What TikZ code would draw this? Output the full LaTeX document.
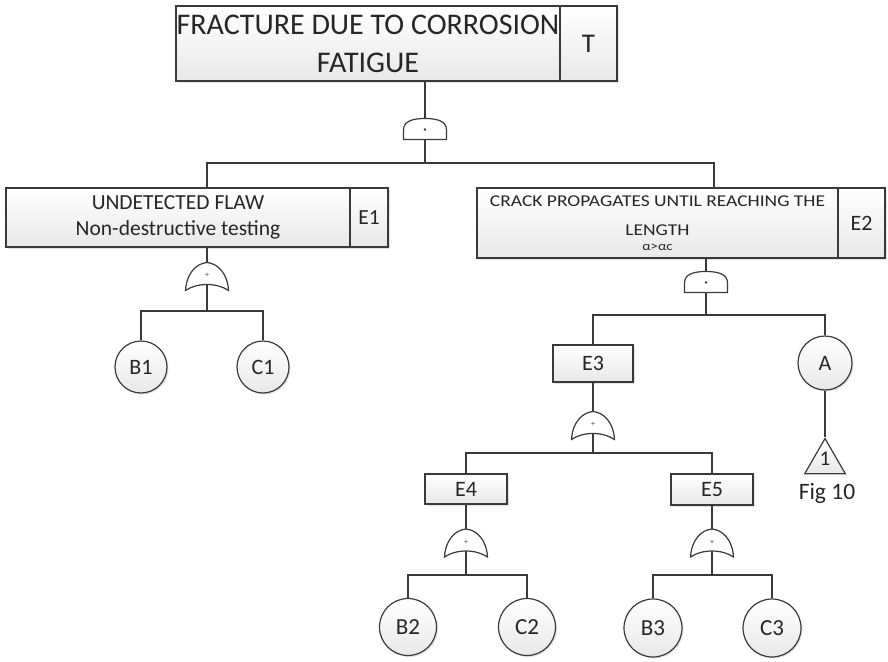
\documentclass[tikz,border=0pt]{standalone}
\usepackage{fontspec}
\setmainfont{Carlito}
\newfontfamily\widefont[FakeStretch=1.18]{Carlito}
\usetikzlibrary{shapes.geometric,shadows}

\definecolor{linec}{HTML}{3A3A3A}

\tikzset{
  conn/.style={draw=linec, line width=1.2pt},
  evbox/.style={draw=linec, line width=1.2pt, top color=white, bottom color=black!9,
    drop shadow={opacity=0.22, shadow xshift=1.5pt, shadow yshift=-1.5pt},
    inner sep=0pt, align=center, text=black!85},
  basic/.style={circle, draw=linec, line width=1.2pt, top color=white, bottom color=black!9,
    drop shadow={opacity=0.22, shadow xshift=1.5pt, shadow yshift=-1.5pt},
    inner sep=0pt, font=\fontsize{22}{24}\selectfont, text=black!85},
  gatestyle/.style={draw=linec, line width=1.2pt, fill=white},
  orgate/.pic={
    \path[gatestyle] (-21.5,14) .. controls (-20.5,-3) and (-11,-13) .. (0,-14)
      .. controls (11,-13) and (20.5,-3) .. (21.5,14)
      .. controls (10,6) and (-10,6) .. cycle;
    \node[font=\fontsize{8}{8}\selectfont, text=black!70, inner sep=0pt] (-sym) at (0,-1) {+};
    \coordinate (-in) at (0,-14);
    \coordinate (-out) at (0,8);
  },
  andgate/.pic={
    \path[gatestyle] (-21.5,10.5) -- (-21.5,1)
      .. controls (-21.5,-8) and (-12,-10.5) .. (0,-10.5)
      .. controls (12,-10.5) and (21.5,-8) .. (21.5,1) -- (21.5,10.5) -- cycle;
    \fill[linec] (0,0.5) circle (1.3pt);
    \coordinate (-in) at (0,-10.5);
    \coordinate (-out) at (0,10.5);
  }
}

\begin{document}
\begin{tikzpicture}[x=1pt, y=-1pt]
\useasboundingbox (0,0) rectangle (888,661);

% top event
\node[evbox, minimum width=384pt, minimum height=75pt, font=\fontsize{30}{38}\selectfont]
  (t) at (368,43.5) {FRACTURE DUE TO CORROSION\\FATIGUE};
\node[evbox, minimum width=57pt, minimum height=75pt, font=\fontsize{27}{30}\selectfont]
  (tid) at (588.5,43.5) {T};

% intermediate events
\node[evbox, minimum width=344pt, minimum height=59pt, font=\fontsize{21.5}{26}\selectfont]
  (e1) at (178,217.5) {UNDETECTED FLAW\\Non-destructive testing};
\node[evbox, minimum width=38pt, minimum height=59pt, font=\fontsize{21.5}{24}\selectfont]
  (e1id) at (369,217.5) {E1};

\node[evbox, minimum width=361pt, minimum height=70pt, font=\widefont\fontsize{16.5}{18}\selectfont]
  (e2) at (657.5,223) {CRACK PROPAGATES UNTIL REACHING THE\\[11pt]LENGTH\\[-3pt]{\fontsize{12.5}{13}\selectfont α>αc}};
\node[evbox, minimum width=47pt, minimum height=70pt, font=\fontsize{22}{24}\selectfont]
  (e2id) at (861.5,223) {E2};

\node[evbox, minimum width=80pt, minimum height=37pt, font=\fontsize{22}{24}\selectfont]
  (e3) at (593,363.5) {E3};
\node[evbox, minimum width=82pt, minimum height=30pt, font=\fontsize{22}{24}\selectfont]
  (e4) at (466,489) {E4};
\node[evbox, minimum width=82pt, minimum height=31pt, font=\fontsize{22}{24}\selectfont]
  (e5) at (712,489.5) {E5};

% basic events
\node[basic, minimum size=52pt] (b1) at (141,367) {B1};
\node[basic, minimum size=52pt] (c1) at (263,367) {C1};
\node[basic, minimum size=54pt] (a)  at (825,363) {A};
\node[basic, minimum size=57pt, font=\fontsize{23}{25}\selectfont] (b2) at (408,627) {B2};
\node[basic, minimum size=57pt, font=\fontsize{23}{25}\selectfont] (c2) at (527,627) {C2};
\node[basic, minimum size=58pt, font=\fontsize{23}{25}\selectfont] (b3) at (653,628) {B3};
\node[basic, minimum size=58pt, font=\fontsize{23}{25}\selectfont] (c3) at (772,628) {C3};

% transfer triangle
\node[regular polygon, regular polygon sides=3, minimum size=47pt, draw=linec, line width=1.2pt,
  top color=white, bottom color=black!9, inner sep=0pt] (tri) at (825,462) {};
\node[font=\fontsize{21}{23}\selectfont, text=black!85] (one) at (825,459) {1};
\node[font=\fontsize{23.5}{26}\selectfont, text=black!85] (fig) at (827,493) {Fig 10};

% gates
\pic (g0) at (425,129)   {andgate};
\pic (g1) at (207,276.5) {orgate};
\pic (g2) at (706,282)   {andgate};
\pic (g3) at (593,425.5) {orgate};
\pic (g4) at (466,543)   {orgate};
\pic (g5) at (712,543)   {orgate};

% junction points
\coordinate (j0)  at (425,163);
\coordinate (j0r) at (714,163);
\coordinate (j1)  at (207,311);
\coordinate (j2)  at (706,315);
\coordinate (j3)  at (593,453);
\coordinate (j4)  at (466,575);
\coordinate (j5)  at (712,575);

% connectors
\draw[conn] (t.south -| g0-in) -- (g0-in);
\draw[conn] (g0-out) -- (j0);
\draw[conn] (e1.north -| g1-in) |- (j0) -- (j0r) -- (j0r |- e2.north);

\draw[conn] (e1.south -| g1-in) -- (g1-in);
\draw[conn] (g1-out) -- (j1);
\draw[conn] (b1.north) |- (j1) -| (c1.north);

\draw[conn] (e2.south -| g2-in) -- (g2-in);
\draw[conn] (g2-out) -- (j2);
\draw[conn] (e3.north) |- (j2) -| (a.north);
\draw[conn] (a.south) -- (tri.corner 1);

\draw[conn] (e3.south) -- (g3-in);
\draw[conn] (g3-out) -- (j3);
\draw[conn] (e4.north) |- (j3) -| (e5.north);

\draw[conn] (e4.south) -- (g4-in);
\draw[conn] (g4-out) -- (j4);
\draw[conn] (b2.north) |- (j4) -| (c2.north);

\draw[conn] (e5.south) -- (g5-in);
\draw[conn] (g5-out) -- (j5);
\draw[conn] (b3.north) |- (j5) -| (c3.north);
\end{tikzpicture}
\end{document}
